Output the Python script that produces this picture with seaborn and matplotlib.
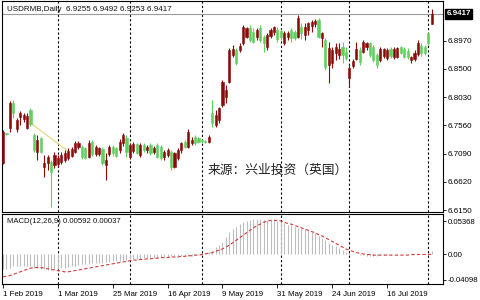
import numpy as np
import pandas as pd
import matplotlib
matplotlib.use("Agg")
import matplotlib.pyplot as plt
import seaborn as sns

sns.set_theme(style="white")
plt.rcParams['font.family'] = ['Liberation Sans', 'DejaVu Sans']

# ---------------- data ----------------
title_text = "USDRMB,Daily  6.9255 6.9492 6.9253 6.9417"
macd_text = "MACD(12,26,9) 0.00592 0.00037"
source_text = "来源：兴业投资（英国）"

opens = [6.6928, 6.7428, 6.7511, 6.7928, 6.7494, 6.7694, 6.7661, 6.7511, 6.7817, 6.7400,
         6.7122, 6.7344, 6.6861, 6.6939, 6.6956, 6.6900, 6.6917, 6.6956, 6.6983, 6.7011,
         6.7050, 6.7122, 6.7206, 6.7194, 6.7178, 6.7039, 6.7289, 6.7083, 6.7083, 6.7161,
         6.6900, 6.7083, 6.7206, 6.7178, 6.7150, 6.7261, 6.7344, 6.7039, 6.7139, 6.7250,
         6.7067, 6.7233, 6.7150, 6.7233, 6.7122, 6.7233, 6.7205, 6.7039, 6.7066, 6.7122,
         6.6872, 6.7011, 6.7150, 6.7289, 6.7205, 6.7261, 6.7372, 6.7344, 6.7316, 6.7300,
         6.7289, 6.7761, 6.7566, 6.7650, 6.7900, 6.8039, 6.8289, 6.8733, 6.8816, 6.8816,
         6.8927, 6.9039, 6.9177, 6.9122, 6.9039, 6.9177, 6.9039, 6.8872, 6.9050, 6.9122,
         6.9150, 6.9139, 6.8927, 6.9039, 6.9150, 6.9122, 6.9039, 6.9206, 6.9067, 6.9150,
         6.9217, 6.9250, 6.9317, 6.9011, 6.8983, 6.8567, 6.8594, 6.8761, 6.8733, 6.8872,
         6.8789, 6.8344, 6.8550, 6.8661, 6.8817, 6.8789, 6.8872, 6.8928, 6.8872, 6.8733,
         6.8650, 6.8717, 6.8678, 6.8828, 6.8694, 6.8706, 6.8861, 6.8828, 6.8806, 6.8650,
         6.8661, 6.8750, 6.8883, 6.8861, 6.9094, 6.9255]
highs = [6.7483, 6.7439, 6.7972, 6.7983, 6.7678, 6.7806, 6.7772, 6.7761, 6.7844, 6.7428,
         6.7400, 6.7372, 6.7067, 6.7067, 6.6983, 6.7122, 6.7067, 6.7122, 6.7150, 6.7178,
         6.7206, 6.7306, 6.7306, 6.7233, 6.7206, 6.7317, 6.7317, 6.7233, 6.7206, 6.7194,
         6.7094, 6.7233, 6.7233, 6.7206, 6.7328, 6.7439, 6.7400, 6.7272, 6.7289, 6.7272,
         6.7261, 6.7261, 6.7233, 6.7261, 6.7216, 6.7261, 6.7233, 6.7150, 6.7177, 6.7150,
         6.7122, 6.7177, 6.7289, 6.7316, 6.7494, 6.7372, 6.7400, 6.7372, 6.7327, 6.7316,
         6.7400, 6.7983, 6.7816, 6.7872, 6.8316, 6.8233, 6.8844, 6.8900, 6.8844, 6.8927,
         6.9233, 6.9205, 6.9233, 6.9177, 6.9177, 6.9233, 6.9066, 6.9094, 6.9177, 6.9216,
         6.9194, 6.9161, 6.9139, 6.9139, 6.9177, 6.9150, 6.9400, 6.9261, 6.9261, 6.9289,
         6.9317, 6.9328, 6.9344, 6.9122, 6.9011, 6.8956, 6.8872, 6.8928, 6.8939, 6.8956,
         6.8872, 6.8567, 6.8661, 6.8956, 6.8872, 6.8983, 6.8956, 6.8956, 6.8900, 6.8761,
         6.8872, 6.8856, 6.8844, 6.8872, 6.8861, 6.8872, 6.8883, 6.8861, 6.8844, 6.8717,
         6.8817, 6.8983, 6.8928, 6.8900, 6.9122, 6.9492]
lows = [6.6917, 6.7406, 6.7456, 6.7678, 6.7456, 6.7567, 6.7622, 6.7494, 6.7550, 6.7122,
        6.6983, 6.7094, 6.6706, 6.6817, 6.6206, 6.6844, 6.6872, 6.6917, 6.6956, 6.6983,
        6.7039, 6.7094, 6.7161, 6.7000, 6.6994, 6.7011, 6.7050, 6.7050, 6.7050, 6.6900,
        6.6650, 6.7050, 6.7050, 6.7028, 6.7106, 6.7217, 6.7039, 6.6994, 6.7106, 6.7083,
        6.7039, 6.7122, 6.7094, 6.7066, 6.7083, 6.7011, 6.6983, 6.6983, 6.7039, 6.6816,
        6.6844, 6.6983, 6.7094, 6.7177, 6.7177, 6.7233, 6.7233, 6.7261, 6.7272, 6.7266,
        6.7272, 6.7539, 6.7527, 6.7594, 6.7872, 6.7927, 6.8272, 6.8705, 6.8566, 6.8788,
        6.8900, 6.9011, 6.8955, 6.8927, 6.8983, 6.8955, 6.8789, 6.8816, 6.9011, 6.9066,
        6.8955, 6.8983, 6.8900, 6.8983, 6.8955, 6.8983, 6.9011, 6.8994, 6.8983, 6.9067,
        6.9122, 6.9206, 6.9011, 6.8872, 6.8483, 6.8261, 6.8511, 6.8650, 6.8661, 6.8594,
        6.8650, 6.8206, 6.8511, 6.8650, 6.8567, 6.8761, 6.8817, 6.8706, 6.8622, 6.8511,
        6.8622, 6.8678, 6.8650, 6.8678, 6.8661, 6.8678, 6.8744, 6.8678, 6.8661, 6.8606,
        6.8639, 6.8717, 6.8717, 6.8733, 6.8900, 6.9253]
closes = [6.7456, 6.7417, 6.7928, 6.7761, 6.7650, 6.7761, 6.7733, 6.7717, 6.7583, 6.7150,
          6.7317, 6.7122, 6.6928, 6.7039, 6.6789, 6.7067, 6.7011, 6.7067, 6.7106, 6.7133,
          6.7161, 6.7272, 6.7272, 6.7039, 6.7011, 6.7261, 6.7083, 6.7206, 6.7178, 6.6928,
          6.6983, 6.7194, 6.7094, 6.7050, 6.7289, 6.7400, 6.7122, 6.7233, 6.7250, 6.7106,
          6.7233, 6.7150, 6.7206, 6.7094, 6.7177, 6.7039, 6.7011, 6.7122, 6.7150, 6.6872,
          6.7094, 6.7150, 6.7261, 6.7205, 6.7455, 6.7316, 6.7261, 6.7289, 6.7294, 6.7283,
          6.7372, 6.7594, 6.7733, 6.7844, 6.8289, 6.8150, 6.8816, 6.8827, 6.8594, 6.8883,
          6.9205, 6.9177, 6.8983, 6.8955, 6.9150, 6.8983, 6.8927, 6.9066, 6.9150, 6.9194,
          6.8994, 6.9039, 6.9105, 6.9105, 6.9011, 6.9011, 6.9344, 6.9094, 6.9206, 6.9261,
          6.9289, 6.9306, 6.9039, 6.9094, 6.8539, 6.8844, 6.8817, 6.8872, 6.8828, 6.8733,
          6.8678, 6.8511, 6.8633, 6.8828, 6.8622, 6.8956, 6.8928, 6.8733, 6.8650, 6.8567,
          6.8828, 6.8828, 6.8817, 6.8717, 6.8833, 6.8844, 6.8772, 6.8706, 6.8694, 6.8694,
          6.8772, 6.8939, 6.8761, 6.8761, 6.8928, 6.9417]

macd_main = [-0.024, -0.023, -0.021, -0.019, -0.018, -0.018, -0.018, -0.019, -0.019,
             -0.021, -0.022, -0.023, -0.024, -0.025, -0.025, -0.024, -0.023, -0.022, -0.021, -0.020, -0.019,
             -0.018, -0.017, -0.016, -0.016, -0.015, -0.014, -0.014, -0.013, -0.013, -0.012, -0.012, -0.011,
             -0.010, -0.010, -0.009, -0.009,
             -0.008, -0.008, -0.007, -0.007, -0.006, -0.006, -0.005, -0.005, -0.005, -0.004, -0.004, -0.004,
             -0.003, -0.003, -0.003, -0.003, -0.002, -0.002, -0.002, -0.001, -0.001,
             0.000, 0.002, 0.004, 0.008, 0.012, 0.016, 0.020, 0.028, 0.036, 0.041, 0.045, 0.049, 0.052,
             0.054, 0.056, 0.057, 0.057, 0.057, 0.056, 0.056, 0.056, 0.055, 0.054, 0.052, 0.050, 0.048,
             0.047, 0.045,
             0.043, 0.042, 0.041, 0.040, 0.037, 0.034, 0.030, 0.027, 0.023, 0.019, 0.016, 0.013, 0.010,
             0.007, 0.004,
             0.002, 0.001, 0.000, -0.001, -0.001, -0.002, -0.002, -0.002, -0.002, -0.001, -0.001, -0.001,
             -0.001, 0.000, 0.000, 0.000, 0.000, 0.000, 0.000, 0.000, 0.000, 0.001, 0.001, 0.002, 0.00592]
macd_signal = [-0.036, -0.035, -0.034, -0.032, -0.030, -0.028, -0.026, -0.024, -0.022, -0.021, -0.021,
               -0.021, -0.022, -0.023, -0.024, -0.025, -0.026, -0.027, -0.028, -0.028, -0.027,
               -0.026, -0.025, -0.024, -0.023, -0.022, -0.021, -0.020, -0.019, -0.018, -0.017, -0.016,
               -0.015, -0.014, -0.013, -0.012, -0.011,
               -0.010, -0.009, -0.009, -0.008, -0.008, -0.007, -0.007, -0.006, -0.006, -0.005, -0.005,
               -0.005, -0.004, -0.004, -0.004, -0.003, -0.003, -0.002, -0.002, -0.001, -0.001,
               0.000, 0.001, 0.002, 0.003, 0.005, 0.007, 0.009, 0.012, 0.015, 0.019, 0.023, 0.027, 0.031,
               0.035, 0.039, 0.043, 0.046, 0.049, 0.052, 0.054, 0.055, 0.055, 0.055, 0.054, 0.052, 0.050,
               0.049, 0.047,
               0.045, 0.043, 0.041, 0.039, 0.037, 0.035, 0.032, 0.030, 0.027, 0.024, 0.021, 0.018, 0.015,
               0.012, 0.009,
               0.007, 0.005, 0.003, 0.002, 0.001, 0.000, 0.000, -0.001, -0.001, -0.001, -0.001, -0.001,
               -0.001, -0.001, -0.001, -0.001, -0.001, -0.001, 0.000, 0.000, 0.000, 0.000, 0.000, 0.000,
               0.00037]

date_tick_bars = [0, 16, 32, 48, 64, 80, 96, 112]
date_tick_labels = ["1 Feb 2019", "1 Mar 2019", "25 Mar 2019", "16 Apr 2019",
                    "9 May 2019", "31 May 2019", "24 Jun 2019", "16 Jul 2019"]
month_start_bars = [16, 37, 58, 81, 101, 124]
price_ticks = [6.8970, 6.8500, 6.8030, 6.7560, 6.7090, 6.6620, 6.6150]
macd_ticks = [0.05368, 0.0, -0.04098]
macd_tick_labels = ["0.05368", "0.00", "-0.04098"]
last_price = 6.9417
trend_bars = [8, 19]
trend_prices = [6.7600, 6.7130]

df = pd.DataFrame({"open": opens, "high": highs, "low": lows, "close": closes,
                   "macd": macd_main, "signal": macd_signal})
df["bar"] = np.arange(len(df))

RED = "#8b0a0a"
GREEN = "#5fcf5f"

fig = plt.figure(figsize=(4.8, 3.0), dpi=100)
fig.patch.set_facecolor("white")
ax = fig.add_axes([2/480, 88/300, 441/480, 211/300])
ax2 = fig.add_axes([2/480, 16/300, 441/480, 70/300])

up = df["close"] >= df["open"]
cols = np.where(up, RED, GREEN)
ax.vlines(df["bar"], df["low"], df["high"], colors=cols, lw=0.8, zorder=3)
body_bottom = np.minimum(df["open"], df["close"])
body_h = np.abs(df["close"] - df["open"])
ax.bar(df["bar"], body_h, bottom=body_bottom, width=0.62, color=cols,
       edgecolor=cols, linewidth=0.4, zorder=4)

ax.axhline(last_price, color="#9a9a9a", lw=0.8, zorder=2)
sns.lineplot(x=trend_bars, y=trend_prices, ax=ax, color="#e6dc80", lw=0.9, zorder=2)

for m in month_start_bars:
    ax.axvline(m, color="black", lw=0.8, ls=(0, (2, 2)), zorder=1)
    ax2.axvline(m, color="black", lw=0.8, ls=(0, (2, 2)), zorder=1)

ax.set_xlim(-0.3, 128.3)
ax.set_ylim(6.6117, 6.9633)
ax.set_xticks([])
ax.yaxis.tick_right()
ax.set_yticks(price_ticks)
ax.set_yticklabels([f"{p:.4f}" for p in price_ticks])
ax.tick_params(axis="y", right=True, length=2.5, width=0.6, labelsize=5.8, pad=1, colors="black")

ax.annotate(f"{last_price:.4f}", xy=(1, last_price), xycoords=("axes fraction", "data"),
            xytext=(2.5, 0), textcoords="offset points", va="center", ha="left",
            color="white", fontsize=5.8, fontweight="bold",
            bbox=dict(boxstyle="square,pad=0.2", fc="black", ec="black"),
            annotation_clip=False)

ax.text(0.011, 0.975, title_text, transform=ax.transAxes, fontsize=5.8, va="top", ha="left",
        color="#111111")
ax.text(0.467, 0.20, source_text, transform=ax.transAxes, fontsize=9.2, va="center", ha="left",
        color="#222222", family=["Noto Sans CJK SC", "DejaVu Sans"])

# MACD panel
ax2.vlines(df["bar"], 0, df["macd"], colors="#bdbdbd", lw=0.8, zorder=2)
sns.lineplot(data=df, x="bar", y="signal", ax=ax2, color="#d23c3c", lw=0.8,
             linestyle=(0, (3, 2)), zorder=3)
ax2.set_xlim(-0.3, 128.3)
ax2.set_ylim(-0.0476, 0.0653)
ax2.set_xlabel("")
ax2.set_ylabel("")
ax.set_xlabel("")
ax.set_ylabel("")
ax2.yaxis.tick_right()
ax2.set_yticks(macd_ticks)
ax2.set_yticklabels(macd_tick_labels)
ax2.tick_params(axis="y", right=True, length=2.5, width=0.6, labelsize=5.6, pad=1, colors="black")
ax2.set_xticks(date_tick_bars)
ax2.set_xticklabels(date_tick_labels, ha="left")
ax2.tick_params(axis="x", bottom=True, length=3, width=0.6, labelsize=5.7, pad=2, colors="black")
ax2.text(0.011, 0.94, macd_text, transform=ax2.transAxes, fontsize=5.6, va="top", ha="left",
         color="#111111")

for a in (ax, ax2):
    for s in a.spines.values():
        s.set_color("black")
        s.set_linewidth(0.8)

fig.savefig("out.png", dpi=100, facecolor="white")
